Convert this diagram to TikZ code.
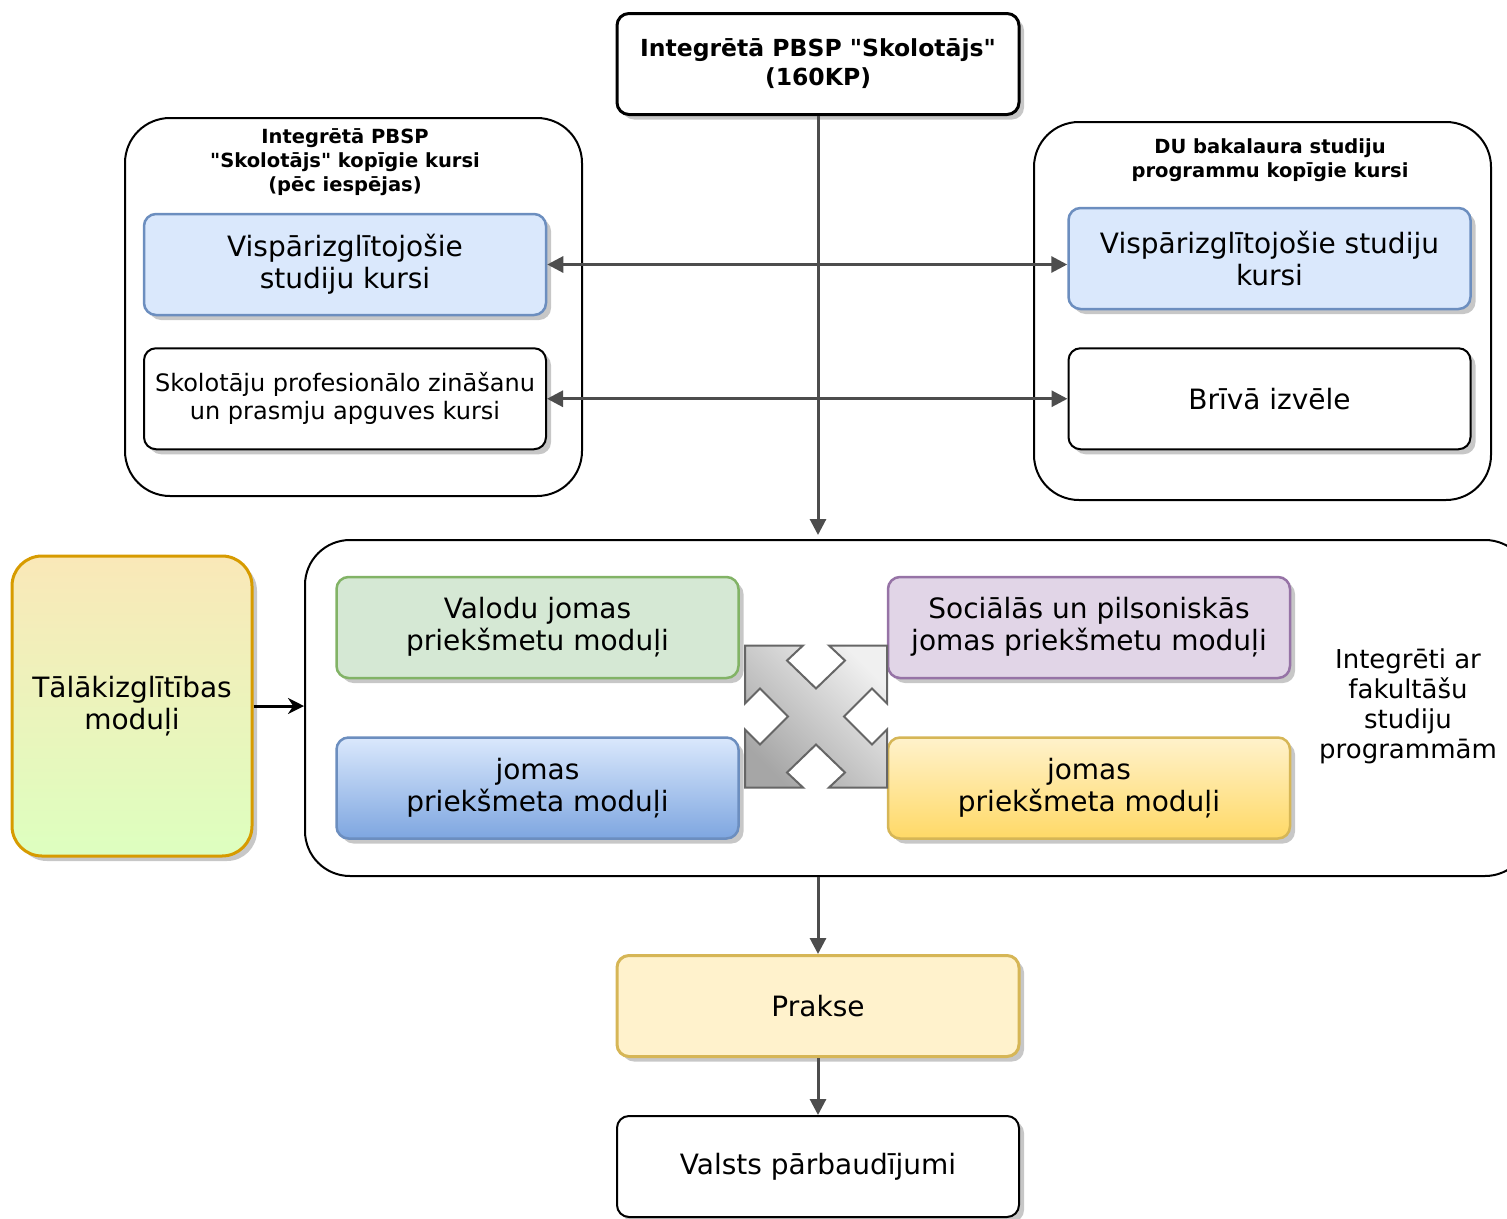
\documentclass[tikz,border=0pt]{standalone}
\usepackage{fontspec}
\setmainfont{DejaVu Sans}[Ligatures=TeXOff]
\usetikzlibrary{positioning,shadows,arrows.meta}

\definecolor{bluefill}{HTML}{DAE8FC}
\definecolor{bluedark}{HTML}{7EA6E0}
\definecolor{blueline}{HTML}{6C8EBF}
\definecolor{greenfill}{HTML}{D5E8D4}
\definecolor{greenline}{HTML}{82B366}
\definecolor{purplefill}{HTML}{E1D5E7}
\definecolor{purpleline}{HTML}{9673A6}
\definecolor{yellowfill}{HTML}{FFF2CC}
\definecolor{yellowdark}{HTML}{FFD966}
\definecolor{yellowline}{HTML}{D6B656}
\definecolor{peachfill}{HTML}{FAE8B8}
\definecolor{limefill}{HTML}{DDFFBF}
\definecolor{orangeline}{HTML}{D79B00}
\definecolor{linegray}{HTML}{4D4D4D}

\tikzset{
  boxshadow/.style={drop shadow={shadow xshift=5pt, shadow yshift=-5pt, fill=black!22, opacity=1}},
  module/.style={rounded corners=12pt, line width=2.5pt, minimum width=402pt, minimum height=101pt,
    inner sep=0pt, align=center, boxshadow, font=\fontsize{28}{32}\selectfont},
  plainbox/.style={module, draw=black, line width=2pt, fill=white},
  group/.style={draw=black, line width=2pt, rounded corners=45pt, inner sep=0pt},
  grouptitle/.style={align=center, font=\bfseries\fontsize{19.5}{24}\selectfont},
  flow/.style={draw=linegray, line width=3pt, -{Triangle[length=16pt,width=16pt]}},
  twoway/.style={draw=linegray, line width=3pt, {Triangle[length=16pt,width=16pt]}-{Triangle[length=16pt,width=16pt]}},
}

\begin{document}
\begin{tikzpicture}[x=1pt, y=-1pt]
  \useasboundingbox (0,0) rectangle (1507,1218);

  % top
  \node[plainbox, line width=3pt, font=\bfseries\fontsize{23.5}{29}\selectfont] (pbsp) at (818,64)
    {Integrētā PBSP "Skolotājs"\\(160KP)};

  % left group
  \node[group, minimum width=457pt, minimum height=378pt] (lgroup) at (353.5,307) {};
  \node[grouptitle] (ltitle) at (345,162) {Integrētā PBSP\\"Skolotājs" kopīgie kursi\\(pēc iespējas)};
  \node[module, draw=blueline, fill=bluefill] (lcourses) at (345,264.5) {Vispārizglītojošie\\studiju kursi};
  \node[plainbox, font=\fontsize{24}{28}\selectfont, below=31pt of lcourses] (lprof)
    {Skolotāju profesionālo zināšanu\\un prasmju apguves kursi};

  % right group
  \node[group, minimum width=457pt, minimum height=378pt] (rgroup) at (1262.5,311) {};
  \node[grouptitle] (rtitle) at (1270,160) {DU bakalaura studiju\\programmu kopīgie kursi};
  \node[module, draw=blueline, fill=bluefill] (rcourses) at (1269.5,258.5) {Vispārizglītojošie studiju\\kursi};
  \node[plainbox, below=37pt of rcourses] (rfree) {Brīvā izvēle};

  % modules
  \node[group, minimum width=1225pt, minimum height=336pt] (modules) at (917.5,708) {};
  \node[module, draw=greenline, fill=greenfill] (lang) at (537.5,627.5) {Valodu jomas\\priekšmetu moduļi};
  \node[module, draw=purpleline, fill=purplefill, right=147pt of lang] (social) {Sociālās un pilsoniskās\\jomas priekšmetu moduļi};
  \node[module, draw=blueline, top color=bluefill, bottom color=bluedark, below=57pt of lang] (fieldb)
    {jomas\\priekšmeta moduļi};
  \node[module, draw=yellowline, top color=yellowfill, bottom color=yellowdark, below=57pt of social] (fieldy)
    {jomas\\priekšmeta moduļi};
  \node[align=center, font=\fontsize{26}{30}\selectfont] (integr) at (1408,706)
    {Integrēti ar\\fakultāšu\\studiju\\programmām};

  \begin{scope}[shift={(816,716.5)}]
    \draw[draw=black!60, line width=2pt, top color=black!6, bottom color=black!35, shading angle=-45]
      (-71,-71) -- (-13,-71) -- (-29,-56) -- (0,-28) -- (29,-56) -- (13,-71) -- (71,-71)
      -- (71,-13) -- (56,-28) -- (28,0) -- (56,28) -- (71,13) -- (71,71)
      -- (13,71) -- (29,56) -- (0,28) -- (-29,56) -- (-13,71) -- (-71,71)
      -- (-71,13) -- (-56,28) -- (-28,0) -- (-56,-28) -- (-71,-13) -- cycle;
  \end{scope}

  \node[module, draw=orangeline, line width=3pt, top color=peachfill, bottom color=limefill,
    rounded corners=30pt, minimum width=240pt, minimum height=300pt] (further) at (132,706)
    {Tālākizglītības\\moduļi};

  % bottom
  \node[module, draw=yellowline, line width=3pt, fill=yellowfill] (practice) at (818,1006) {Prakse};
  \node[plainbox, below=57pt of practice] (exams) {Valsts pārbaudījumi};

  % connectors
  \draw[flow, shorten >=4pt] (pbsp.south) -- (pbsp.south |- modules.north);
  \draw[twoway] (lcourses.east) -- (lcourses.east -| rcourses.west);
  \draw[twoway] (lprof.east) -- (rfree.west);
  \draw[line width=3pt, -{Stealth[length=16pt,width=16pt]}] (further.east) -- (further.east -| modules.west);
  \draw[flow] (modules.south -| pbsp.south) -- (practice.north);
  \draw[flow] (practice.south) -- (exams.north);
\end{tikzpicture}
\end{document}
